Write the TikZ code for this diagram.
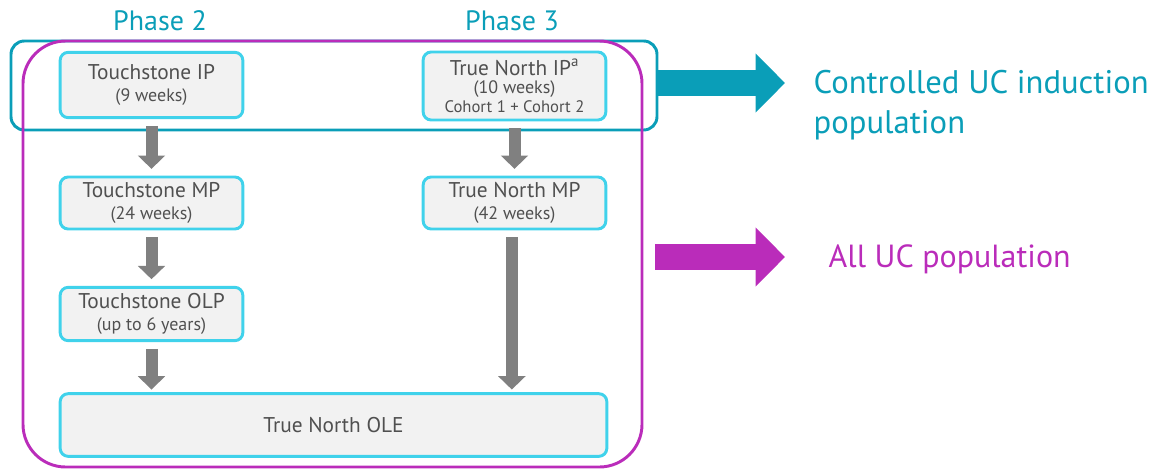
\documentclass[tikz,border=0pt]{standalone}
\usepackage{fontspec}
\setmainfont{PT Sans}
\usetikzlibrary{positioning,arrows.meta}

\definecolor{popteal}{RGB}{10,158,184}
\definecolor{popmagenta}{RGB}{186,44,186}
\definecolor{boxline}{RGB}{64,210,235}
\definecolor{boxfill}{RGB}{242,242,242}
\definecolor{flowgray}{RGB}{128,128,128}
\definecolor{txt}{RGB}{80,80,80}

\newcommand{\weeks}[1]{{\fontsize{13.5}{15}\selectfont #1}}
\tikzset{
  study/.style={draw=boxline, fill=boxfill, line width=2.2pt, rounded corners=6pt,
    align=center, text=txt, inner sep=0pt, minimum width=137pt, font=\fontsize{16}{17}\selectfont},
  flow/.style={flowgray, line width=9pt, -{Triangle[width=20pt,length=10pt]}},
  bigflow/.style={line width=19pt, -{Triangle[width=43pt,length=22pt]}},
}

\begin{document}
\begin{tikzpicture}[x=0.75pt,y=-0.75pt]
\useasboundingbox (0,0) rectangle (1158,472);

% phase headings
\node[text=popteal, font=\fontsize{21}{24}\selectfont] (ph2) at (160,21) {Phase 2};
\node[text=popteal, font=\fontsize{21}{24}\selectfont] (ph3) at (512,21) {Phase 3};

% population frames
\draw[popteal, line width=2.2pt, rounded corners=10pt] (11,41) rectangle (657,130);
\coordinate (ctrl) at (657,83);
\draw[popmagenta, line width=2.2pt, rounded corners=32pt] (23,41) rectangle (642,467);
\coordinate (all) at (642,257);

% study periods
\node[study, minimum height=49pt] (tsip) at (151.5,85) {Touchstone IP\\[-1pt]\weeks{(9 weeks)}};
\node[study, minimum height=51pt] (tnip) at (514.5,86) {True North IP\textsuperscript{a}\\[-3pt]\weeks{(10 weeks)}\\[-3pt]{\fontsize{12.5}{14}\selectfont Cohort 1 + Cohort 2}};
\node[study, minimum height=39pt] (tsmp) at (151.5,203) {Touchstone MP\\[-1pt]\weeks{(24 weeks)}};
\node[study, minimum height=39pt] (tnmp) at (514.5,203) {True North MP\\[-1pt]\weeks{(42 weeks)}};
\node[study, minimum height=40pt] (tsolp) at (151.5,314) {Touchstone OLP\\[-1pt]\weeks{(up to 6 years)}};
\node[study, minimum height=47pt, minimum width=410pt] (tnole) at (333.5,425) {True North OLE};

% transitions between periods
\draw[flow] ([yshift=-5pt]tsip.south) -- ([yshift=5pt]tsmp.north);
\draw[flow] ([yshift=-5pt]tsmp.south) -- ([yshift=5pt]tsolp.north);
\draw[flow] ([yshift=-5pt]tsolp.south) -- ([yshift=2pt]tsolp.south |- tnole.north);
\draw[flow] ([yshift=-5pt]tnip.south) -- ([yshift=5pt]tnmp.north);
\draw[flow] ([xshift=-2pt,yshift=-5pt]tnmp.south) -- ([xshift=-2pt,yshift=2pt]tnmp.south |- tnole.north);

% analysis populations
\node[text=popteal, align=left, anchor=north west, font=\fontsize{24.5}{29.5}\selectfont] (ctrltxt) at (809,66) {Controlled UC induction\\population};
\node[text=popmagenta, anchor=west, font=\fontsize{24}{28}\selectfont] (alltxt) at (824,259) {All UC population};
\draw[bigflow, popteal] (ctrl) -- (785,83);
\draw[bigflow, popmagenta] ([xshift=10pt]all) -- (785,257);
\end{tikzpicture}
\end{document}
